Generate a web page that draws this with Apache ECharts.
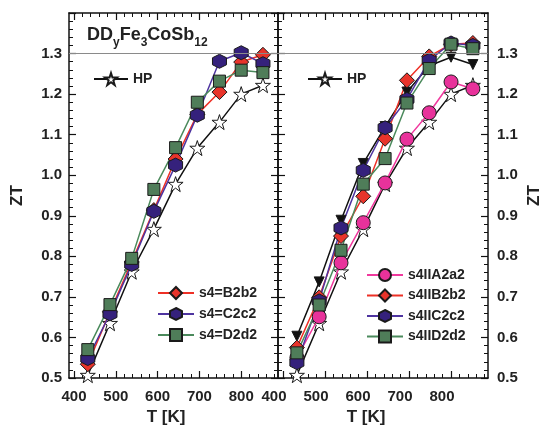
<!DOCTYPE html>
<html><head><meta charset="utf-8">
<script src="https://cdn.jsdelivr.net/npm/echarts@6/dist/echarts.min.js"></script>
<style>html,body{margin:0;padding:0;background:#fff}#c{width:547px;height:436px}</style>
</head><body><div id="c"></div>
<script>
// ---- data ----
const temps = [433, 486, 538, 591, 643, 695, 748, 800, 852];
const xTickLabels = [400, 500, 600, 700, 800];
const xMinorTicks = [420, 440, 460, 480, 520, 540, 560, 580, 620, 640, 660, 680, 720, 740, 760, 780, 820, 840, 860, 880];
const hpZT    = [0.507, 0.635, 0.762, 0.867, 0.978, 1.067, 1.131, 1.200, 1.222];
const leftB2b2 = [0.534, 0.663, 0.786, 0.914, 1.040, 1.150, 1.205, 1.279, 1.297];
const leftC2c2 = [0.548, 0.658, 0.780, 0.911, 1.025, 1.148, 1.281, 1.302, 1.275];
const leftD2d2 = [0.570, 0.681, 0.795, 0.965, 1.068, 1.180, 1.232, 1.259, 1.253];
const rightA2a2 = [0.550, 0.651, 0.784, 0.883, 0.981, 1.089, 1.154, 1.230, 1.213];
const rightB2b2 = [0.575, 0.699, 0.850, 0.948, 1.090, 1.234, 1.293, 1.323, 1.326];
const rightC2c2 = [0.538, 0.690, 0.870, 1.012, 1.117, 1.187, 1.283, 1.326, 1.320];
const rightD2d2 = [0.562, 0.680, 0.815, 0.978, 1.041, 1.178, 1.263, 1.323, 1.312];
const rightBlack = [0.603, 0.737, 0.889, 1.029, 1.120, 1.205, 1.270, 1.291, 1.273];
const refLine = 1.3;

// ---- styles ----
const FONT = 'Liberation Sans, Arial, sans-serif';
const STAR = 'path://M50,0 L61.8,35.1 L98.9,35.1 L69,57.3 L80.2,92.7 L50,71 L19.8,92.7 L31,57.3 L1.1,35.1 L38.2,35.1 Z';
const HEX = 'path://M50,0 L93.3,25 L93.3,75 L50,100 L6.7,75 L6.7,25 Z';
const AX = '#111';

function pts(arr){ return temps.map((t,i)=>[t, arr[i]]); }

function ser(name, arr, g, symbol, size, fill, lineColor, extra){
  const s = {
    name: name, type: 'line', data: pts(arr),
    xAxisIndex: g*4, yAxisIndex: g*2,
    symbol: symbol, symbolSize: size,
    lineStyle: {color: lineColor, width: 1.5},
    itemStyle: {color: fill, borderColor: '#1a1a1a', borderWidth: 1},
    emphasis: {disabled: true}, animation: false
  };
  return Object.assign(s, extra || {});
}

const mark = {
  silent: true, symbol: 'none', label: {show: false},
  lineStyle: {color: '#8a8a8a', width: 1, type: 'solid'},
  data: [{yAxis: refLine}], animation: false
};

function xAxes(g, labelPad, nameStyle){
  return [
    { gridIndex: g, type: 'value', position: 'bottom', min: 388, max: 888,
      axisLine: {show: true, lineStyle: {color: AX, width: 1.5}},
      axisTick: {show: true, inside: true, length: 7, customValues: xTickLabels, lineStyle: {color: AX, width: 1.2}},
      axisLabel: {show: true, customValues: xTickLabels, margin: 11, color: '#222', fontSize: 15, fontWeight: 'bold', fontFamily: FONT, padding: labelPad},
      splitLine: {show: false},
      name: 'T [K]', nameLocation: 'middle', nameGap: 31,
      nameTextStyle: Object.assign({fontSize: 17, fontWeight: 'bold', color: '#222', fontFamily: FONT}, nameStyle)
    },
    { gridIndex: g, type: 'value', position: 'top', min: 388, max: 888,
      axisLine: {show: true, lineStyle: {color: AX, width: 1.5}},
      axisTick: {show: true, inside: true, length: 7, customValues: xTickLabels, lineStyle: {color: AX, width: 1.2}},
      axisLabel: {show: false}, splitLine: {show: false}
    },
    { gridIndex: g, type: 'value', position: 'top', min: 388, max: 888,
      axisLine: {show: false},
      axisTick: {show: true, inside: true, length: 4, customValues: xMinorTicks, lineStyle: {color: AX, width: 1}},
      axisLabel: {show: false}, splitLine: {show: false}
    },
    { gridIndex: g, type: 'value', position: 'bottom', min: 388, max: 888,
      axisLine: {show: false},
      axisTick: {show: true, inside: true, length: 4, customValues: xMinorTicks, lineStyle: {color: AX, width: 1}},
      axisLabel: {show: false}, splitLine: {show: false}
    }
  ];
}

function yAxis(g, pos, labels, nameGap){
  const a = { gridIndex: g, type: 'value', position: pos, min: 0.5, max: 1.4, interval: 0.1,
    axisLine: {show: true, lineStyle: {color: AX, width: 1.5}},
    axisTick: {show: true, inside: true, length: 7, lineStyle: {color: AX, width: 1.2}},
    minorTick: {show: true, splitNumber: 5, length: 4, lineStyle: {color: AX, width: 1}},
    axisLabel: {show: labels, showMaxLabel: false, margin: pos === 'left' ? 7 : 9, color: '#222', fontSize: 15, fontWeight: 'bold', fontFamily: FONT,
      formatter: v => v.toFixed(1)},
    splitLine: {show: false}
  };
  if (labels) {
    a.name = 'ZT'; a.nameLocation = 'middle'; a.nameRotate = 90; a.nameGap = nameGap;
    a.nameTextStyle = {fontSize: 17, fontWeight: 'bold', color: '#222', fontFamily: FONT};
  }
  return a;
}

const legendText = {fontSize: 14, fontWeight: 'bold', color: '#222', fontFamily: FONT};

const option = {
  backgroundColor: '#fff',
  animation: false,
  title: {
    left: 82, top: 20,
    text: '{a|DD}{s|y}{a|Fe}{s|3}{a|CoSb}{s|12}',
    textStyle: {
      rich: {
        a: {fontSize: 18, fontWeight: 'bold', color: '#222', fontFamily: FONT, verticalAlign: 'bottom', lineHeight: 24, padding: [0,0,5,0]},
        s: {fontSize: 12, fontWeight: 'bold', color: '#222', fontFamily: FONT, verticalAlign: 'bottom', lineHeight: 14}
      }
    }
  },
  grid: [
    {left: 69, top: 13, width: 209, height: 365},
    {left: 278, top: 13, width: 210, height: 365}
  ],
  xAxis: xAxes(0, [0,0,0,0], {padding: [0,15,0,0]}).concat(xAxes(1, [0,18,0,0], {padding: [0,34,0,0]})),
  yAxis: [yAxis(0, 'left', true, 43), yAxis(0, 'right', false), yAxis(1, 'left', false), yAxis(1, 'right', true, 38)],
  legend: [
    {data: ['HP'], left: 88, top: 67, itemWidth: 34, itemHeight: 15, textStyle: legendText, selectedMode: false},
    {data: ['HP'], left: 302, top: 67, itemWidth: 34, itemHeight: 15, textStyle: legendText, selectedMode: false},
    {data: ['s4=B2b2', 's4=C2c2', 's4=D2d2'], orient: 'vertical', left: 152, top: 281, itemGap: 7,
      itemWidth: 36, itemHeight: 15, textStyle: legendText, selectedMode: false},
    {data: ['s4IIA2a2', 's4IIB2b2', 's4IIC2c2', 's4IID2d2'], orient: 'vertical', left: 361, top: 263, itemGap: 6.5,
      itemWidth: 36, itemHeight: 15, textStyle: legendText, selectedMode: false}
  ],
  series: [
    ser('HP', hpZT, 0, STAR, 15, '#ffffff', '#111', {markLine: mark, z: 2}),
    ser('s4=B2b2', leftB2b2, 0, 'diamond', 15, '#e8342b', '#ee3026'),
    ser('s4=C2c2', leftC2c2, 0, HEX, 14, '#35217c', '#4e34a0'),
    ser('s4=D2d2', leftD2d2, 0, 'rect', 12, '#4f7d59', '#4b8a5c'),
    ser('HP', hpZT, 1, STAR, 15, '#ffffff', '#111', {markLine: mark, z: 2}),
    ser('black', rightBlack, 1, 'triangle', 10, '#111', '#111', {symbolRotate: 180}),
    ser('s4IIA2a2', rightA2a2, 1, 'circle', 14, '#e8329b', '#f0399e'),
    ser('s4IIB2b2', rightB2b2, 1, 'diamond', 15, '#e8342b', '#ee3026'),
    ser('s4IIC2c2', rightC2c2, 1, HEX, 14, '#35217c', '#4e34a0'),
    ser('s4IID2d2', rightD2d2, 1, 'rect', 12, '#4f7d59', '#4b8a5c')
  ]
};

const chart = echarts.init(document.getElementById('c'), null, {renderer: 'canvas'});
chart.setOption(option);
</script>
</body></html>
